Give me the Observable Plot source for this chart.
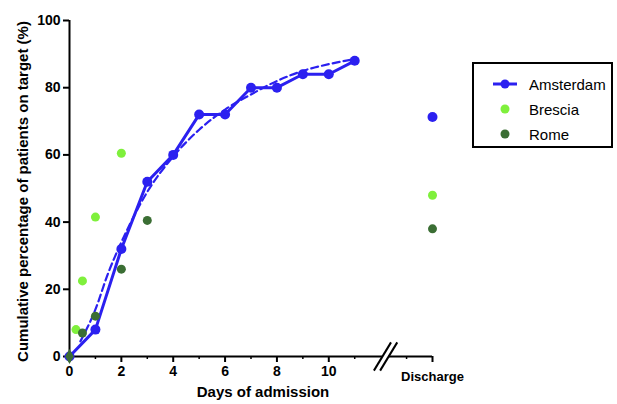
<!DOCTYPE html>
<html>
<head>
<meta charset="utf-8">
<script src="https://cdn.jsdelivr.net/npm/d3@7"></script>
<script src="https://cdn.jsdelivr.net/npm/@observablehq/plot@0.6"></script>
<style>
  html, body { margin: 0; padding: 0; background: white; }
  #wrap { position: relative; width: 617px; height: 404px; font-family: "Liberation Sans", Arial, sans-serif; }
  #legend { position: absolute; left: 472px; top: 62px; width: 137px; height: 82px; border: 2px solid black; background: white; }
  .item { position: absolute; left: 0; height: 20px; display: flex; align-items: center; font-size: 15px; color: black; }
  .item svg { margin-left: 19px; margin-right: 12px; }
</style>
</head>
<body>
<div id="wrap"><div id="legend"></div></div>
<script>
// ---- data ----
const amsterdamDays = [0, 1, 2, 3, 4, 5, 6, 7, 8, 9, 10, 11];
const amsterdamValues = [0, 8, 32, 52, 60, 72, 72, 80, 80, 84, 84, 88];
const amsterdamDischarge = 71.3;
const amsterdamDischargeErr = 1.0;

const fitDays = [0.42, 1, 1.5, 2, 2.5, 3, 4, 5, 6, 7, 8, 9, 10, 11];
const fitValues = [4.5, 14, 25, 34, 42, 49, 59.5, 67.5, 73.5, 78, 82, 85, 87, 88.5];

const bresciaDays = [0.25, 0.5, 1, 2];
const bresciaValues = [8, 22.5, 41.5, 60.5];
const bresciaDischarge = 48;

const romeDays = [0, 0.5, 1, 2, 3];
const romeValues = [0, 7, 12, 26, 40.5];
const romeDischarge = 38;

const seriesNames = ["Amsterdam", "Brescia", "Rome"];
const seriesColors = ["#2b20f0", "#7ff03c", "#3b6e34"];

const yTicks = [0, 20, 40, 60, 80, 100];
const xTicks = [0, 2, 4, 6, 8, 10];
const xMinorTicks = [1, 3, 5, 7, 9, 11, 13];
const dischargeX = 14;
const dischargeLabel = "Discharge";
const axisBreaks = [12.07, 12.31];
const xLabel = "Days of admission";
const yLabel = "Cumulative percentage of patients on target (%)";

// ---- tables ----
const amsterdam = amsterdamDays.map((d, i) => ({day: d, value: amsterdamValues[i]}));
const fit = fitDays.map((d, i) => ({day: d, value: fitValues[i]}));
const brescia = bresciaDays.map((d, i) => ({day: d, value: bresciaValues[i]}))
  .concat([{day: dischargeX, value: bresciaDischarge}]);
const rome = romeDays.map((d, i) => ({day: d, value: romeValues[i], sym: d === 0 ? "diamond" : "circle"}))
  .concat([{day: dischargeX, value: romeDischarge, sym: "circle"}]);
const amsDis = [{day: dischargeX, value: amsterdamDischarge, lo: amsterdamDischarge - amsterdamDischargeErr, hi: amsterdamDischarge + amsterdamDischargeErr}];

const [blue, lime, dark] = seriesColors;
const slashDX = 0.33, slashDY = 4.2;

const chart = Plot.plot({
  width: 617,
  height: 404,
  marginLeft: 69,
  marginRight: 185,
  marginTop: 20,
  marginBottom: 48,
  x: {domain: [0, dischargeX]},
  y: {domain: [0, 100]},
  style: {fontFamily: "'Liberation Sans', Arial, sans-serif", fontSize: "14px", fontWeight: "bold", color: "black", background: "white", overflow: "visible"},
  marks: [
    Plot.axisY(yTicks, {tickSize: 6, tickPadding: 3, strokeWidth: 2, label: null, fontSize: 14}),
    Plot.axisX(xTicks, {tickSize: 6, tickPadding: 4, strokeWidth: 2, label: null, fontSize: 14}),
    Plot.axisX([dischargeX], {tickSize: 6, tickPadding: 9, strokeWidth: 2, label: null, fontSize: 13, tickFormat: () => dischargeLabel}),
    Plot.axisX(xMinorTicks, {tickSize: 3, strokeWidth: 1.5, label: null, tickFormat: () => ""}),
    Plot.ruleX([0], {y1: 0, y2: 100, stroke: "black", strokeWidth: 2}),
    Plot.ruleY([0], {x1: 0, x2: axisBreaks[0], stroke: "black", strokeWidth: 2}),
    Plot.ruleY([0], {x1: axisBreaks[1], x2: dischargeX, stroke: "black", strokeWidth: 2}),
    Plot.link(axisBreaks, {x1: d => d - slashDX, x2: d => d + slashDX, y1: -slashDY, y2: slashDY, stroke: "black", strokeWidth: 2}),
    Plot.text([xLabel], {frameAnchor: "bottom", dx: 12, dy: 40, fontSize: 15, fontWeight: "bold"}),
    Plot.text([yLabel], {frameAnchor: "left", textAnchor: "middle", rotate: -90, dx: -46, dy: 3, fontSize: 15, fontWeight: "bold"}),
    Plot.line(fit, {x: "day", y: "value", stroke: blue, strokeWidth: 2.2, strokeDasharray: "7,4", curve: "monotone-x"}),
    Plot.line(amsterdam, {x: "day", y: "value", stroke: blue, strokeWidth: 3}),
    Plot.dot(amsterdam, {x: "day", y: "value", r: 5, fill: blue}),
    Plot.ruleX(amsDis, {x: "day", y1: "lo", y2: "hi", stroke: blue, strokeWidth: 3}),
    Plot.dot(amsDis, {x: "day", y: "value", r: 5, fill: blue}),
    Plot.dot(brescia, {x: "day", y: "value", r: 4.5, fill: lime}),
    Plot.dot(rome, {x: "day", y: "value", r: 4.5, fill: dark, symbol: "sym"})
  ]
});
document.getElementById("wrap").prepend(chart);

// ---- legend ----
const legend = document.getElementById("legend");
const tops = [10, 35, 60];
seriesNames.forEach((name, i) => {
  const item = document.createElement("div");
  item.className = "item";
  item.style.top = tops[i] + "px";
  const sym = i === 0
    ? `<svg width="24" height="12"><line x1="0" y1="6" x2="24" y2="6" stroke="${seriesColors[i]}" stroke-width="3"/><circle cx="12" cy="6" r="4.5" fill="${seriesColors[i]}"/></svg>`
    : `<svg width="24" height="12"><circle cx="12" cy="6" r="4.5" fill="${seriesColors[i]}"/></svg>`;
  item.innerHTML = sym + `<span>${name}</span>`;
  legend.appendChild(item);
});
</script>
</body>
</html>
